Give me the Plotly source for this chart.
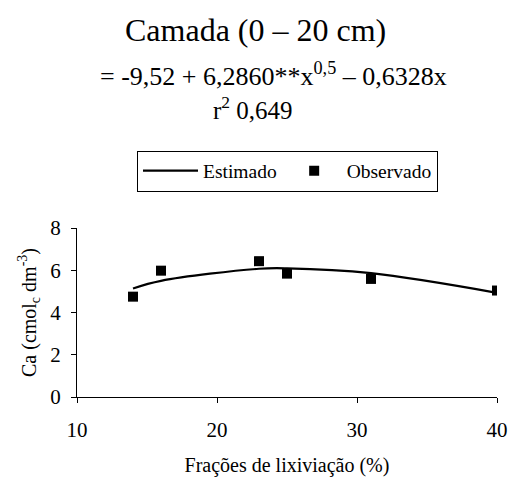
import plotly.graph_objects as go

# Data
obs_x = [14, 16, 23, 25, 31, 40]
obs_y = [4.75, 5.98, 6.43, 5.84, 5.59, 5.04]
est_x = [14, 16, 23, 25, 31, 40]
est_y = [5.14, 5.50, 6.07, 6.09, 5.86, 4.93]

x_ticks = [10, 20, 30, 40]
y_ticks = [0, 2, 4, 6, 8]

FONT = "'Liberation Serif', 'Times New Roman', Times, serif"

W, H = 512, 477
L, R, T, B = 77, 15, 228, 80

fig = go.Figure()
fig.add_trace(go.Scatter(x=est_x, y=est_y, mode="lines", name="Estimado",
                         line=dict(color="black", width=2.2, shape="spline")))
fig.add_trace(go.Scatter(x=obs_x, y=obs_y, mode="markers", name="Observado",
                         marker=dict(symbol="square", color="black", size=10)))

pw, ph = W - L - R, H - T - B


def px2paper(px, py):
    return (px - L) / pw, (H - B - py) / ph


lx, ly = px2paper(287.5, 171)

fig.update_layout(
    width=W, height=H,
    margin=dict(l=L, r=R, t=T, b=B, autoexpand=False),
    paper_bgcolor="white", plot_bgcolor="white",
    font=dict(family=FONT, color="black", size=20),
    showlegend=True,
    legend=dict(orientation="h", x=lx, xanchor="center", y=ly, yanchor="middle",
                bordercolor="black", borderwidth=1, font=dict(size=19.5, family=FONT),
                itemwidth=55, bgcolor="white"),
)

for text, px, py, size in [
    ("Camada (0 – 20 cm)", 255, 30, 32),
    ("= -9,52 + 6,2860**x<sup>0,5</sup> – 0,6328x", 273, 74, 26),
    ("r<sup>2</sup> 0,649", 253, 108, 25),
]:
    ax, ay = px2paper(px, py)
    fig.add_annotation(text=text, x=ax, y=ay, xref="paper", yref="paper",
                       xanchor="center", yanchor="middle", showarrow=False,
                       font=dict(size=size, family=FONT))

fig.update_xaxes(range=[10, 40], tickvals=x_ticks, showline=True, linecolor="black",
                 linewidth=1, ticks="outside", ticklen=5, tickcolor="black",
                 showgrid=False, zeroline=False, ticklabelstandoff=9, automargin=False,
                 tickfont=dict(size=21, family=FONT),
                 title=dict(text="Frações de lixiviação (%)", font=dict(size=20, family=FONT),
                            standoff=18))
fig.update_yaxes(range=[0, 8], tickvals=y_ticks, showline=True, linecolor="black",
                 linewidth=1, ticks="outside", ticklen=5, tickcolor="black",
                 showgrid=False, zeroline=False, ticklabelstandoff=6, automargin=False,
                 tickfont=dict(size=21, family=FONT),
                 title=dict(text="Ca (cmol<sub>c</sub> dm<sup>-3</sup>)",
                            font=dict(size=20, family=FONT), standoff=8))

fig.write_html("out.html", config={"displayModeBar": False},
               post_script="document.body.style.margin='0';document.body.style.overflow='hidden';")
